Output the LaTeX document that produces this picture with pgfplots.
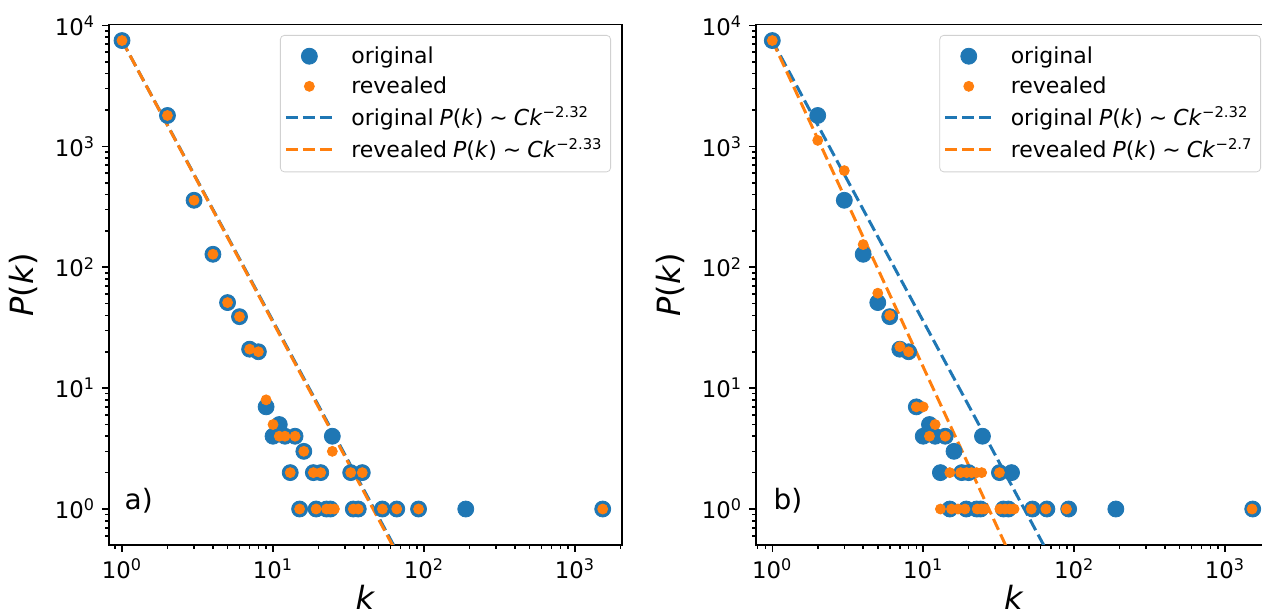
\documentclass[border=0pt]{standalone}
\usepackage{pgfplots}
\pgfplotsset{compat=1.18}
\usepackage{fontspec}
\setmainfont{DejaVu Sans}
\definecolor{tabblue}{HTML}{1F77B4}
\definecolor{taborange}{HTML}{FF7F0E}

\newcommand{\ticksize}{\fontsize{11.4}{13.5}\selectfont}
\newcommand{\legsize}{\fontsize{11}{13}\selectfont}
\newcommand{\labsize}{\fontsize{16}{19}\selectfont}
\newcommand{\tsup}[1]{\textsuperscript{\fontsize{8}{9}\selectfont #1}}
\newcommand{\lsup}[1]{\textsuperscript{\fontsize{7.4}{8}\selectfont #1}}
\newcommand{\fitlab}[2]{#1\hspace{3pt}\textit{P}(\textit{k})\hspace{3pt}∼\hspace{3pt}\textit{Ck}\lsup{−#2}}

\pgfplotsset{
  legend image code/.code={%
    \draw[mark repeat=2,mark phase=2,#1] plot coordinates {(0pt,0pt) (11.75pt,0pt) (23.5pt,0pt)};
    \path (0pt,0pt) (30pt,0pt);},
}

\begin{document}
\begin{tikzpicture}
\useasboundingbox (0,0) rectangle (631pt,306.5pt);

% ---- panel a ----
\begin{axis}[xmode=log, ymode=log,
  scale only axis, anchor=south west, at={(54.5pt,34pt)}, width=256.5pt, height=260.25pt,
  xmin=0.82, xmax=2047, ymin=0.504, ymax=10190,
  axis line style={line width=0.8pt},
  tick style={line width=0.8pt, black},
  tick align=outside, xtick pos=bottom, ytick pos=left,
  major tick length=3.5pt, minor tick length=2pt,
  xtick={1,10,100,1000},
  xticklabels={10\tsup{0},10\tsup{1},10\tsup{2},10\tsup{3}},
  minor xtick={0.9,2,3,4,5,6,7,8,9,20,30,40,50,60,70,80,90,200,300,400,500,600,700,800,900,2000},
  ytick={1,10,100,1000,10000},
  yticklabels={10\tsup{0},10\tsup{1},10\tsup{2},10\tsup{3},10\tsup{4}},
  minor ytick={0.6,0.7,0.8,0.9,2,3,4,5,6,7,8,9,20,30,40,50,60,70,80,90,200,300,400,500,600,700,800,900,2000,3000,4000,5000,6000,7000,8000,9000},
  tick label style={font=\ticksize},
  xlabel={\textit{k}},
  xlabel style={at={(axis description cs:0.5,0)}, anchor=north, yshift=-20pt, inner sep=0pt, font=\labsize},
  ylabel={\textit{P}(\textit{k})},
  ylabel style={at={(axis description cs:-0.138,0.5)}, anchor=south, inner sep=0pt, font=\labsize},
  legend style={at={(axis description cs:1,1)}, anchor=north east, xshift=-5.5pt, yshift=-5.25pt,
    draw=black!18, rounded corners=2pt, font=\legsize, row sep=1.2pt, inner xsep=2pt, inner ysep=3.5pt},
  legend cell align=left]
\addplot[only marks, mark=*, mark size=4pt, tabblue] coordinates {(1,7500)(2,1800)(3,358)(4,128)(5,51)(6,39)(7,21)(8,20)(9,7)(10,4)(11,5)(12,4)(13,2)(14,4)(15,1)(16,3)(18.5,2)(19.3,1)(20.7,2)(22.6,1)(24,1)(24.7,4)(32.7,2)(34,1)(36.7,1)(39,2)(53,1)(66,1)(92,1)(189,1)(1525,1)};
\addlegendentry{original}
\addplot[only marks, mark=*, mark size=2.5pt, taborange] coordinates {(1,7500)(2,1800)(3,358)(4,128)(5,51)(6,39)(7,21)(8,20)(9,8)(10,5)(11,4)(12,4)(13,2)(14,4)(15,1)(16,3)(18.5,2)(19.3,1)(20.7,2)(22.6,1)(24,1)(24.7,3)(25.5,1)(32.7,2)(34,1)(36.7,1)(39,2)(53,1)(66,1)(92,1)(1525,1)};
\addlegendentry{revealed}
\addplot[tabblue, line width=1.5pt, dash pattern=on 6pt off 2.5pt] coordinates {(1,7500)(70,0.392)};
\addlegendentry{\fitlab{original}{2.32}}
\addplot[taborange, line width=1.5pt, dash pattern=on 6pt off 2.5pt] coordinates {(1,7500)(70,0.376)};
\addlegendentry{\fitlab{revealed}{2.33}}
\node[font=\fontsize{14}{17}\selectfont] at (axis description cs:0.058,0.086) {a)};
\end{axis}

% ---- panel b ----
\begin{axis}[xmode=log, ymode=log,
  scale only axis, anchor=south west, at={(378pt,34pt)}, width=258pt, height=260.25pt,
  xmin=0.78, xmax=2047, ymin=0.504, ymax=10190,
  axis line style={line width=0.8pt},
  tick style={line width=0.8pt, black},
  tick align=outside, xtick pos=bottom, ytick pos=left,
  major tick length=3.5pt, minor tick length=2pt,
  xtick={1,10,100,1000},
  xticklabels={10\tsup{0},10\tsup{1},10\tsup{2},10\tsup{3}},
  minor xtick={0.8,0.9,2,3,4,5,6,7,8,9,20,30,40,50,60,70,80,90,200,300,400,500,600,700,800,900,2000},
  ytick={1,10,100,1000,10000},
  yticklabels={10\tsup{0},10\tsup{1},10\tsup{2},10\tsup{3},10\tsup{4}},
  minor ytick={0.6,0.7,0.8,0.9,2,3,4,5,6,7,8,9,20,30,40,50,60,70,80,90,200,300,400,500,600,700,800,900,2000,3000,4000,5000,6000,7000,8000,9000},
  tick label style={font=\ticksize},
  xlabel={\textit{k}},
  xlabel style={at={(axis description cs:0.5,0)}, anchor=north, yshift=-20pt, inner sep=0pt, font=\labsize},
  ylabel={\textit{P}(\textit{k})},
  ylabel style={at={(axis description cs:-0.1375,0.5)}, anchor=south, inner sep=0pt, font=\labsize},
  legend style={at={(axis description cs:1,1)}, anchor=north east, xshift=-5.5pt, yshift=-5.25pt,
    draw=black!18, rounded corners=2pt, font=\legsize, row sep=1.2pt, inner xsep=2pt, inner ysep=3.5pt},
  legend cell align=left]
\addplot[only marks, mark=*, mark size=4pt, tabblue] coordinates {(1,7500)(2,1800)(3,358)(4,128)(5,51)(6,39)(7,21)(8,20)(9,7)(10,4)(11,5)(12,4)(13,2)(14,4)(15,1)(16,3)(18,2)(19.3,1)(20,2)(22.6,1)(24,1)(24.7,4)(32,2)(34,1)(36.7,1)(38.5,2)(53,1)(66,1)(92,1)(189,1)(1525,1)};
\addlegendentry{original}
\addplot[only marks, mark=*, mark size=2.5pt, taborange] coordinates {(1,7500)(2,1120)(3,630)(4,154)(5,61)(6,40)(7,22)(8,20)(9,7)(10,7)(11,4)(12,5)(14,4)(15,2)(17.7,2)(19.4,2)(20.9,2)(22.6,2)(24.4,2)(32,2)(13,1)(15.4,1)(17,1)(18.9,1)(22.8,1)(24.4,1)(25.6,1)(32.2,1)(34.8,1)(37.5,1)(40,1)(52,1)(65,1)(89,1)(1510,1)};
\addlegendentry{revealed}
\addplot[tabblue, line width=1.5pt, dash pattern=on 6pt off 2.5pt] coordinates {(1,7500)(70,0.392)};
\addlegendentry{\fitlab{original}{2.32}}
\addplot[taborange, line width=1.5pt, dash pattern=on 6pt off 2.5pt] coordinates {(1,7500)(40,0.354)};
\addlegendentry{\fitlab{revealed}{2.7}}
\node[font=\fontsize{14}{17}\selectfont] at (axis description cs:0.062,0.086) {b)};
\end{axis}
\end{tikzpicture}
\end{document}
